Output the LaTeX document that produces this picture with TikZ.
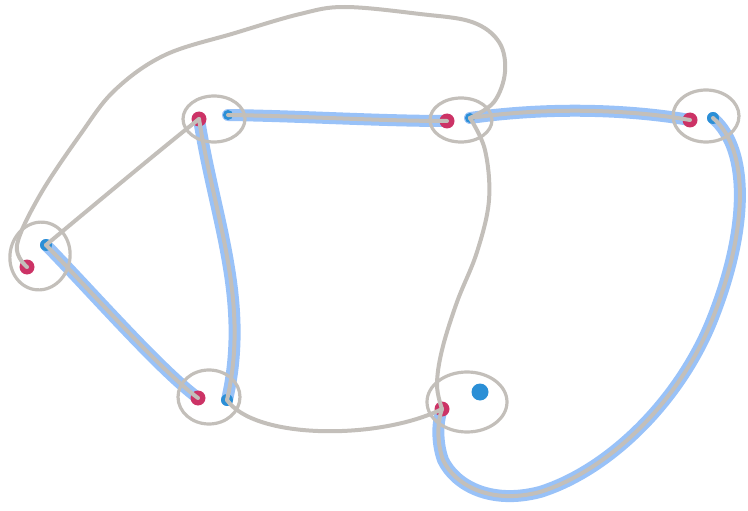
\documentclass[tikz,border=0pt]{standalone}
\usetikzlibrary{shapes.geometric}
\pgfdeclarelayer{bg}
\pgfsetlayers{bg,main}
\definecolor{lgray}{HTML}{C3BFBA}
\definecolor{hlblue}{HTML}{99C2F8}
\definecolor{dotred}{HTML}{CC3366}
\definecolor{dotblue}{HTML}{2B8FD6}
\tikzset{
  ring/.style={ellipse, draw=lgray, line width=3.2pt, inner sep=0pt},
  rdot/.style={circle, fill=dotred, inner sep=0pt, minimum size=15pt},
  bdot/.style={circle, fill=dotblue, inner sep=0pt, minimum size=12pt},
  edge/.style={draw=lgray, line width=4pt, line cap=round, line join=round},
  hl/.style={draw=hlblue, line width=12pt, line cap=round, line join=round},
}
\begin{document}
\begin{tikzpicture}[x=1pt,y=-1pt]
\useasboundingbox (0,0) rectangle (748,511);
% rings
\node[ring, minimum width=62pt, minimum height=46pt] (A) at (214,119) {};
\node[ring, minimum width=62pt, minimum height=44pt] (B) at (461,120) {};
\node[ring, minimum width=66pt, minimum height=52pt] (C) at (706,116) {};
\node[ring, minimum width=60pt, minimum height=68pt, rotate=-10] (D) at (40,256) {};
\node[ring, minimum width=62pt, minimum height=54pt] (E) at (209,397) {};
\node[ring, minimum width=80pt, minimum height=60pt] (F) at (467,402) {};
% dots
\node[rdot] (Ar) at (199,119) {};
\node[bdot, minimum size=10pt] (Ab) at (228,115) {};
\node[rdot] (Br) at (447,121) {};
\node[bdot, minimum size=10pt] (Bb) at (470,118) {};
\node[rdot] (Cr) at (690,120) {};
\node[bdot] (Cb) at (713,118) {};
\node[rdot] (Dr) at (27,267) {};
\node[bdot] (Db) at (46,245) {};
\node[rdot] (Er) at (198,398) {};
\node[bdot] (Eb) at (227,400) {};
\node[rdot] (Fr) at (442,409) {};
\node[bdot, minimum size=17pt] (Fb) at (480,392) {};
% highlights
\begin{pgfonlayer}{bg}
\path[hl] (Ab.center) .. controls (300,116) and (380,121) .. (Br.center);
\path[hl] (Bb.center) .. controls (540,108) and (620,108) .. (Cr.center);
\path[hl] (Cb.center) .. controls (750,150) and (748,230) .. (712,320)
   .. controls (680,400) and (610,470) .. (540,492)
   .. controls (490,505) and (455,485) .. (443,460)
   .. controls (436,440) and (438,420) .. (Fr.center);
\path[hl] (Db.center) .. controls (90,290) and (160,370) .. (Er.center);
\path[hl] (Ar.center) .. controls (215,220) and (250,300) .. (Eb.center);
\end{pgfonlayer}
% connectors
\path[edge] (Ab.center) .. controls (300,116) and (380,121) .. (Br.center);
\path[edge] (Bb.center) .. controls (540,108) and (620,108) .. (Cr.center);
\path[edge] (Cb.center) .. controls (750,150) and (748,230) .. (712,320)
   .. controls (680,400) and (610,470) .. (540,492)
   .. controls (490,505) and (455,485) .. (443,460)
   .. controls (436,440) and (438,420) .. (Fr.center);
\path[edge] (Db.center) .. controls (90,290) and (160,370) .. (Er.center);
\path[edge] (Ar.center) .. controls (215,220) and (250,300) .. (Eb.center);
\path[edge] plot[smooth, tension=0.6] coordinates {(Dr.center) (17,245) (40,195) (80,135) (115,90) (165,55) (235,33) (300,14) (345,7) (420,14) (472,22) (499,42) (505,72) (494,102) (Bb.center)};
\path[edge] (Db.center) .. controls (100,200) and (160,150) .. (Ar.center);
\path[edge] (Eb.center) .. controls (255,440) and (380,440) .. (Fr.center);
\path[edge] plot[smooth, tension=0.6] coordinates {(Bb.center) (485,150) (489,200) (477,252) (457,302) (442,350) (437,385) (Fr.center)};
\end{tikzpicture}
\end{document}
